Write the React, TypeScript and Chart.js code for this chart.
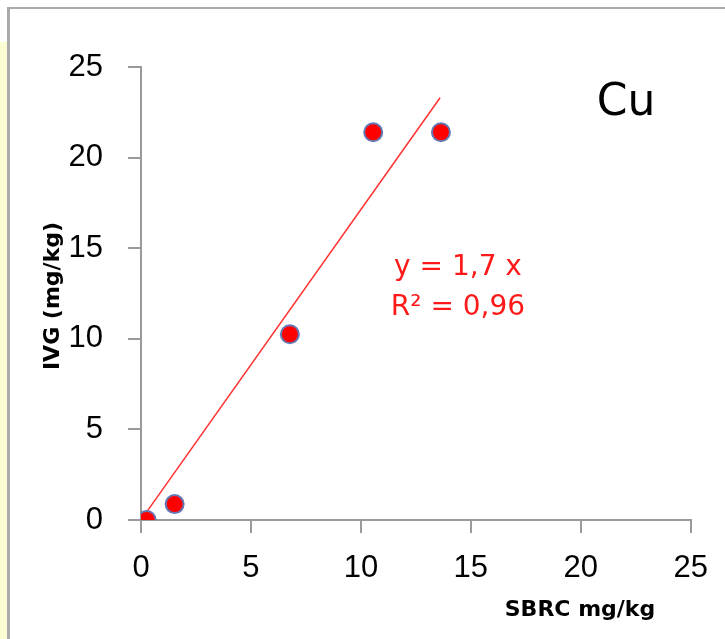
import React, { useEffect, useRef } from "react";
import { Chart, registerables } from "chart.js";

Chart.register(...registerables);

const sbrcValues = [0.26, 1.53, 6.77, 10.56, 13.64];
const ivgValues = [0.0, 0.88, 10.25, 21.4, 21.4];
const trendX = [0.26, 13.6];
const trendY = [0.45, 23.3];
const axisTicks = [0, 5, 10, 15, 20, 25];
const xTitle = "SBRC mg/kg";
const yTitle = "IVG (mg/kg)";
const elementLabel = "Cu";
const equationLines = ["y = 1,7 x", "R² = 0,96"];

const textPlugin = {
  id: "textPlugin",
  afterDraw(chart: any) {
    const ctx = chart.ctx;
    ctx.save();
    ctx.textAlign = "center";
    ctx.textBaseline = "middle";
    // element label
    ctx.fillStyle = "#000";
    ctx.font = "44px 'DejaVu Sans'";
    ctx.fillText(elementLabel, 626, 104);
    // equation
    ctx.fillStyle = "#ff1a1a";
    ctx.font = "28px 'DejaVu Sans'";
    ctx.fillText(equationLines[0], 458, 268);
    ctx.fillText(equationLines[1], 458, 308);
    // axis titles
    ctx.fillStyle = "#000";
    ctx.font = "bold 22px 'DejaVu Sans'";
    ctx.fillText(xTitle, 580, 610);
    ctx.save();
    ctx.translate(53, 296);
    ctx.rotate(-Math.PI / 2);
    ctx.fillText(yTitle, 0, 0);
    ctx.restore();
    ctx.restore();
  },
};

export default function App() {
  const ref = useRef<HTMLCanvasElement | null>(null);
  useEffect(() => {
    if (!ref.current) return;
    const chart = new Chart(ref.current, {
      type: "scatter",
      data: {
        datasets: [
          {
            label: "points",
            data: sbrcValues.map((x, i) => ({ x, y: ivgValues[i] })),
            backgroundColor: "#ff0000",
            borderColor: "#6478b4",
            borderWidth: 2,
            pointRadius: 9,
          },
          {
            label: "trend",
            type: "line",
            data: trendX.map((x, i) => ({ x, y: trendY[i] })),
            borderColor: "#ff3030",
            borderWidth: 1.5,
            pointRadius: 0,
            fill: false,
          } as any,
        ],
      },
      options: {
        animation: false,
        responsive: false,
        devicePixelRatio: 1,
        layout: { padding: { top: 67, right: 30, left: 0, bottom: 0 } },
        plugins: { legend: { display: false }, tooltip: { enabled: false } },
        scales: {
          x: {
            type: "linear",
            min: 0,
            max: 25,
            afterBuildTicks: (s: any) => {
              s.ticks = axisTicks.map((v) => ({ value: v }));
            },
            afterFit: (s: any) => {
              s.height = 119;
            },
            ticks: {
              font: { family: "'Liberation Sans'", size: 31 },
              color: "#000",
              padding: 17,
            },
            grid: {
              drawOnChartArea: false,
              drawTicks: true,
              tickLength: 13,
              color: "#9a9a9a",
              lineWidth: 2,
            },
            border: { display: true, color: "#9a9a9a", width: 2 },
          },
          y: {
            type: "linear",
            min: 0,
            max: 25,
            afterBuildTicks: (s: any) => {
              s.ticks = axisTicks.map((v) => ({ value: v }));
            },
            afterFit: (s: any) => {
              s.width = 141;
            },
            ticks: {
              font: { family: "'Liberation Sans'", size: 31 },
              color: "#000",
              padding: 25,
            },
            grid: {
              drawOnChartArea: false,
              drawTicks: true,
              tickLength: 13,
              color: "#9a9a9a",
              lineWidth: 2,
            },
            border: { display: true, color: "#9a9a9a", width: 2 },
          },
        },
      },
      plugins: [textPlugin],
    });
    return () => chart.destroy();
  }, []);

  return (
    <div
      style={{
        position: "fixed",
        left: 0,
        top: 0,
        width: 725,
        height: 639,
        background: "#fff",
        overflow: "hidden",
      }}
    >
      <div
        style={{
          position: "absolute",
          left: 0,
          top: 42,
          width: 7,
          height: 597,
          background: "#fcfcd2",
        }}
      />
      <div
        style={{
          position: "absolute",
          left: 7,
          top: 7,
          width: 800,
          height: 700,
          borderTop: "2px solid #aaaaaa",
          borderLeft: "3px solid #aaaaaa",
        }}
      />
      <canvas
        ref={ref}
        width={725}
        height={639}
        style={{ position: "absolute", left: 0, top: 0 }}
      />
    </div>
  );
}
